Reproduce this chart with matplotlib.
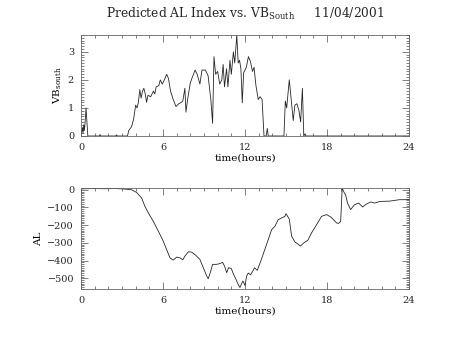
import numpy as np
import matplotlib
matplotlib.use('Agg')
import matplotlib.pyplot as plt
from matplotlib.ticker import MultipleLocator

plt.rcParams['font.family'] = 'DejaVu Serif'
plt.rcParams['mathtext.fontset'] = 'dejavuserif'
plt.rcParams['text.color'] = '0.15'

# southward IMF component (hours, value)
vb_time = [0.0, 0.1, 0.15, 0.2, 0.25, 0.3, 0.37, 0.42, 0.5, 1.35, 1.4, 1.45, 2.55, 2.6, 2.65,
           3.4, 3.5, 3.7, 3.85, 4.0, 4.1, 4.2, 4.3, 4.4, 4.5, 4.6, 4.7, 4.8, 4.9, 5.1, 5.3,
           5.4, 5.5, 5.7, 5.8, 5.95, 6.1, 6.27, 6.4, 6.55, 6.75, 6.95, 7.15, 7.35, 7.45, 7.6,
           7.68, 7.8, 8.0, 8.15, 8.35, 8.5, 8.7, 8.85, 9.1, 9.3, 9.5, 9.63, 9.73, 9.85, 10.0,
           10.15, 10.3, 10.4, 10.5, 10.65, 10.75, 10.9, 11.0, 11.15, 11.25, 11.4, 11.5, 11.6,
           11.7, 11.8, 11.9, 12.1, 12.25, 12.4, 12.55, 12.66, 12.8, 12.97, 13.1, 13.25, 13.39,
           13.55, 13.63, 13.7, 14.85, 14.95, 15.05, 15.24, 15.38, 15.53, 15.65, 15.8, 15.95,
           16.07, 16.2, 16.3, 16.4, 16.45, 24.0]
vb_south = [0.0, 0.3, 0.1, 0.4, 0.2, 0.5, 1.0, 0.6, 0.0, 0.0, 0.05, 0.0, 0.0, 0.04, 0.0,
            0.0, 0.2, 0.33, 0.6, 1.1, 1.0, 1.2, 1.65, 1.35, 1.6, 1.7, 1.5, 1.2, 1.45, 1.4, 1.6,
            1.5, 1.75, 1.8, 2.0, 1.85, 2.0, 2.2, 2.05, 1.6, 1.3, 1.05, 1.15, 1.2, 1.25, 1.7,
            0.85, 1.3, 1.9, 2.1, 2.35, 2.2, 1.85, 2.35, 2.35, 2.15, 1.3, 0.45, 2.83, 2.2, 2.3,
            1.85, 2.0, 2.55, 1.75, 2.4, 1.75, 2.7, 2.2, 3.0, 2.6, 3.6, 2.6, 2.7,
            2.4, 1.18, 2.25, 2.45, 2.83, 2.65, 2.3, 2.45, 1.8, 1.3, 1.4, 1.3, 0.0,
            0.0, 0.27, 0.0, 0.0, 1.25, 1.0, 2.0, 1.3, 0.55, 1.1, 1.15, 0.9,
            0.5, 1.7, 0.0, 0.08, 0.0, 0.0]

# predicted AL index (hours, nT)
al_time = [0.0, 0.5, 1.0, 1.5, 2.0, 2.5, 3.0, 3.34, 3.7, 4.07, 4.44, 4.68, 4.93, 5.29, 5.66,
           6.02, 6.26, 6.51, 6.75, 7.0, 7.24, 7.45, 7.6, 7.85, 8.1, 8.4, 8.7, 8.9, 9.2, 9.31,
           9.45, 9.63, 9.9, 10.1, 10.36, 10.5, 10.66, 10.8, 11.0, 11.15, 11.34, 11.5, 11.63,
           11.75, 11.85, 12.0, 12.12, 12.24, 12.4, 12.56, 12.7, 12.9, 13.2, 13.45, 13.7,
           13.95, 14.19, 14.43, 14.65, 14.92, 15.0, 15.24, 15.41, 15.66, 15.85, 16.05, 16.3,
           16.6, 16.87, 17.24, 17.6, 17.97, 18.3, 18.7, 18.85, 19.0, 19.11, 19.25, 19.36,
           19.5, 19.73, 20.0, 20.3, 20.45, 20.6, 20.9, 21.2, 21.5, 21.87, 22.6, 23.3, 24.0]
al_index = [5, 6, 7, 6, 6, 7, 5, 3, 0, -15, -47, -94, -131, -178, -234,
            -290, -337, -384, -397, -380, -384, -395, -375, -350, -352, -370, -393, -431, -487, -502,
            -470, -421, -421, -418, -410, -430, -468, -440, -445, -475, -506, -534, -552,
            -530, -515, -540, -487, -470, -480, -460, -440, -455, -393, -337, -281,
            -225, -206, -169, -160, -150, -135, -165, -262, -295, -305, -318, -300,
            -285, -243, -197, -150, -140, -155, -187, -190, -178, 9, -15, -28,
            -75, -112, -85, -75, -85, -97, -80, -69, -75, -66, -64, -56, -56]

fig = plt.figure(figsize=(4.54, 3.41), dpi=100)
ax1 = fig.add_axes([0.1784, 0.6012, 0.7225, 0.2962])
ax2 = fig.add_axes([0.1784, 0.1525, 0.7225, 0.2962])

ax1.plot(vb_time, vb_south, color='0.15', lw=0.6)
ax2.plot(al_time, al_index, color='0.15', lw=0.6)

ax1.set_ylim(0, 3.6)
ax2.set_ylim(-560, 10)

for ax in (ax1, ax2):
    ax.set_xlim(0, 24)
    ax.xaxis.set_major_locator(MultipleLocator(6))
    ax.xaxis.set_minor_locator(MultipleLocator(1))
    ax.tick_params(which='both', direction='in', top=True, right=True,
                   labelsize=7, width=0.5, colors='0.3', labelcolor='0.15')
    ax.tick_params(which='major', length=5, pad=5)
    ax.tick_params(which='minor', length=2.5)
    for s in ax.spines.values():
        s.set_linewidth(0.6)
        s.set_color('0.4')
    ax.set_xlabel('time(hours)', fontsize=7.5, labelpad=1)

ax1.yaxis.set_major_locator(MultipleLocator(1))
ax1.yaxis.set_minor_locator(MultipleLocator(0.1))
ax2.yaxis.set_major_locator(MultipleLocator(100))
ax2.yaxis.set_minor_locator(MultipleLocator(10))

ax1.set_ylabel(r'VB$_{\rm south}$', fontsize=7.5, labelpad=3)
ax2.set_ylabel('AL', fontsize=7.5, labelpad=3)

ax1.set_title(r'Predicted AL Index vs. VB$_{\rm South}$     11/04/2001',
              fontsize=8.8, pad=12)

fig.savefig('out.png', dpi=100)
